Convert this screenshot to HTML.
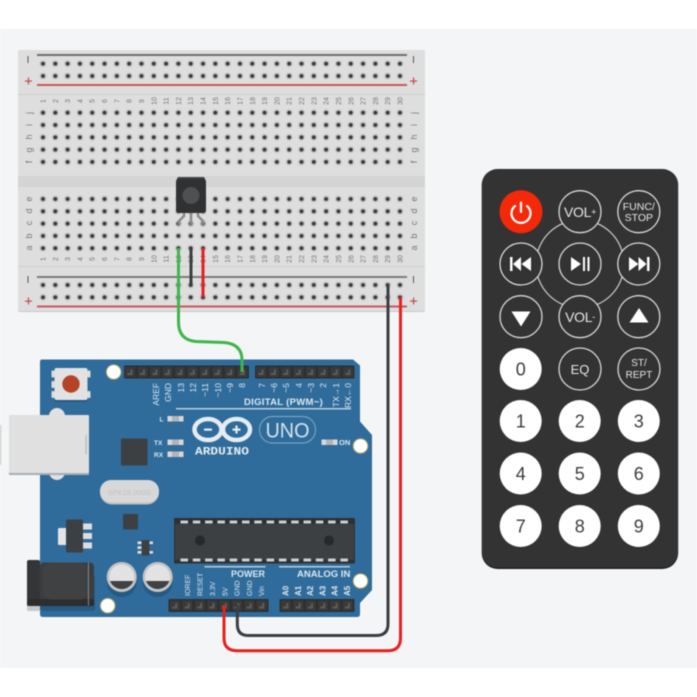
<!DOCTYPE html>
<html><head><meta charset="utf-8"><style>
html,body{margin:0;padding:0;background:#fff}
svg{display:block;filter:blur(.4px)}
text{font-family:"Liberation Sans",sans-serif}
</style></head><body>
<svg width="697" height="697" viewBox="0 0 697 697" xmlns="http://www.w3.org/2000/svg">
<defs>
<pattern id="h" patternUnits="userSpaceOnUse" x="36.85" y="57.55" width="12.31" height="12.31">
<circle cx="6.15" cy="6.15" r="3.6" fill="#c8c8c8"/><circle cx="6.15" cy="6.15" r="2" fill="#3a3a3a"/>
</pattern>
<pattern id="h2" patternUnits="userSpaceOnUse" x="36.85" y="106.55" width="12.31" height="12.31">
<circle cx="6.15" cy="6.15" r="3.6" fill="#c8c8c8"/><circle cx="6.15" cy="6.15" r="2" fill="#3a3a3a"/>
</pattern>
<pattern id="h3" patternUnits="userSpaceOnUse" x="36.85" y="192.85" width="12.31" height="12.31">
<circle cx="6.15" cy="6.15" r="3.6" fill="#c8c8c8"/><circle cx="6.15" cy="6.15" r="2" fill="#3a3a3a"/>
</pattern>
<pattern id="h4" patternUnits="userSpaceOnUse" x="36.85" y="278.85" width="12.31" height="12.31">
<circle cx="6.15" cy="6.15" r="3.6" fill="#c8c8c8"/><circle cx="6.15" cy="6.15" r="2" fill="#3a3a3a"/>
</pattern>
<pattern id="ph" patternUnits="userSpaceOnUse" x="124" y="365.5" width="12.45" height="13">
<rect x="1.2" y="1.5" width="10" height="10" fill="#3a3a3a"/><path d="M3.5 9.5h5v-5.5h-2v3.5h-3z" fill="#5c5c5c"/>
</pattern>
<pattern id="ph2" patternUnits="userSpaceOnUse" x="255" y="365.5" width="12.4" height="13">
<rect x="1.2" y="1.5" width="10" height="10" fill="#3a3a3a"/><path d="M3.5 9.5h5v-5.5h-2v3.5h-3z" fill="#5c5c5c"/>
</pattern>
<pattern id="ph3" patternUnits="userSpaceOnUse" x="168.8" y="599" width="12.4" height="13">
<rect x="1.2" y="1.5" width="10" height="10" fill="#3a3a3a"/><path d="M3.5 9.5h5v-5.5h-2v3.5h-3z" fill="#5c5c5c"/>
</pattern>
<pattern id="ph4" patternUnits="userSpaceOnUse" x="279.8" y="599" width="12.35" height="13">
<rect x="1.2" y="1.5" width="10" height="10" fill="#3a3a3a"/><path d="M3.5 9.5h5v-5.5h-2v3.5h-3z" fill="#5c5c5c"/>
</pattern>
</defs>
<rect x="0" y="29" width="697" height="639" fill="#f4f5f7"/>

<!-- breadboard -->
<rect x="18" y="50" width="407" height="262" rx="2" fill="#c9c9c9"/>
<rect x="18" y="50" width="407" height="261" rx="2" fill="#dedede"/>
<rect x="18" y="94" width="407" height="1" fill="#cfcfcf"/>
<rect x="18" y="266" width="407" height="1" fill="#cfcfcf"/>
<rect x="18" y="176" width="407" height="11" fill="#d4d4d4"/>
<rect x="37" y="54" width="370" height="2" fill="#6f6f6f"/>
<rect x="37" y="84" width="370" height="2" fill="#c9585c"/>
<rect x="37" y="276" width="370" height="2" fill="#7b7b7b"/>
<rect x="37" y="305.500" width="370" height="2" fill="#c9585c"/>
<rect x="36.850" y="57.550" width="369.300" height="24.620" fill="url(#h)"/>
<rect x="36.850" y="106.550" width="369.300" height="61.550" fill="url(#h2)"/>
<rect x="36.850" y="192.850" width="369.300" height="61.550" fill="url(#h3)"/>
<rect x="36.850" y="278.850" width="369.300" height="24.620" fill="url(#h4)"/>
<g fill="#555"><rect x="27.500" y="56" width="1" height="7"/><rect x="25" y="80.500" width="7" height="1.200" fill="#c9484c"/><rect x="27.900" y="77.500" width="1.200" height="7" fill="#c9484c"/>
<rect x="413" y="56" width="1" height="7"/><rect x="410" y="80.500" width="7" height="1.200" fill="#c9484c"/><rect x="413" y="77.500" width="1.200" height="7" fill="#c9484c"/>
<rect x="27.500" y="276" width="1" height="7"/><rect x="25" y="300.500" width="7" height="1.200" fill="#c9484c"/><rect x="27.900" y="297.500" width="1.200" height="7" fill="#c9484c"/>
<rect x="413" y="276" width="1" height="7"/><rect x="410" y="300.500" width="7" height="1.200" fill="#c9484c"/><rect x="413" y="297.500" width="1.200" height="7" fill="#c9484c"/></g>
<g transform="rotate(-90)" text-anchor="middle" font-size="7" fill="#777">
<text x="-101" y="45.500">1</text><text x="-101" y="57.800">2</text><text x="-101" y="70.100">3</text><text x="-101" y="82.400">4</text><text x="-101" y="94.700">5</text><text x="-101" y="107.100">6</text><text x="-101" y="119.400">7</text><text x="-101" y="131.700">8</text><text x="-101" y="144">9</text><text x="-101" y="156.300">10</text><text x="-101" y="168.600">11</text><text x="-101" y="180.900">12</text><text x="-101" y="193.200">13</text><text x="-101" y="205.500">14</text><text x="-101" y="217.800">15</text><text x="-101" y="230.200">16</text><text x="-101" y="242.500">17</text><text x="-101" y="254.800">18</text><text x="-101" y="267.100">19</text><text x="-101" y="279.400">20</text><text x="-101" y="291.700">21</text><text x="-101" y="304">22</text><text x="-101" y="316.300">23</text><text x="-101" y="328.600">24</text><text x="-101" y="340.900">25</text><text x="-101" y="353.300">26</text><text x="-101" y="365.600">27</text><text x="-101" y="377.900">28</text><text x="-101" y="390.200">29</text><text x="-101" y="402.500">30</text>
<text x="-259" y="45.500">1</text><text x="-259" y="57.800">2</text><text x="-259" y="70.100">3</text><text x="-259" y="82.400">4</text><text x="-259" y="94.700">5</text><text x="-259" y="107.100">6</text><text x="-259" y="119.400">7</text><text x="-259" y="131.700">8</text><text x="-259" y="144">9</text><text x="-259" y="156.300">10</text><text x="-259" y="168.600">11</text><text x="-259" y="180.900">12</text><text x="-259" y="193.200">13</text><text x="-259" y="205.500">14</text><text x="-259" y="217.800">15</text><text x="-259" y="230.200">16</text><text x="-259" y="242.500">17</text><text x="-259" y="254.800">18</text><text x="-259" y="267.100">19</text><text x="-259" y="279.400">20</text><text x="-259" y="291.700">21</text><text x="-259" y="304">22</text><text x="-259" y="316.300">23</text><text x="-259" y="328.600">24</text><text x="-259" y="340.900">25</text><text x="-259" y="353.300">26</text><text x="-259" y="365.600">27</text><text x="-259" y="377.900">28</text><text x="-259" y="390.200">29</text><text x="-259" y="402.500">30</text>
</g>
<g transform="rotate(-90)" text-anchor="middle" font-size="9" fill="#777">
<text x="-113" y="32">j</text><text x="-125" y="32">i</text><text x="-137" y="32">h</text><text x="-150" y="32">g</text><text x="-162" y="32">f</text>
<text x="-199" y="32">e</text><text x="-211" y="32">d</text><text x="-223" y="32">c</text><text x="-236" y="32">b</text><text x="-248" y="32">a</text>
<text x="-113" y="417">j</text><text x="-125" y="417">i</text><text x="-137" y="417">h</text><text x="-150" y="417">g</text><text x="-162" y="417">f</text>
<text x="-199" y="417">e</text><text x="-211" y="417">d</text><text x="-223" y="417">c</text><text x="-236" y="417">b</text><text x="-248" y="417">a</text>
</g>

<!-- sensor -->
<g fill="none" stroke="#8a8a8a" stroke-width="2.500"><path d="M184 213 V216 L179 221 V225"/><path d="M191 213 V225"/><path d="M198 213 V216 L203 221 V225"/></g>
<path d="M178 177 H204 L206 181 V210 Q206 213 203 213 H179 Q176 213 176 210 V181 Z" fill="#2f3133"/>
<rect x="178" y="177" width="26" height="2" fill="#3f4143"/>
<circle cx="191" cy="195.500" r="8.500" fill="#4e5052"/>

<!-- arduino board -->
<path d="M42 359.500 H353 L360 365.500 V421.500 L372 435 V590 L360 603 V614 Q360 617 357 617 H43 Q40 617 40 614 V362 Q40 359.500 42 359.500Z" fill="#2f6c9b"/>
<!-- headers -->
<rect x="124" y="365.500" width="125" height="13" rx="1" fill="#2e2e2e"/>
<rect x="124" y="365.500" width="124.500" height="13" fill="url(#ph)"/>
<rect x="255" y="365.500" width="99.500" height="13" rx="1" fill="#2e2e2e"/>
<rect x="255" y="365.500" width="99.200" height="13" fill="url(#ph2)"/>
<rect x="168.500" y="599" width="100" height="13" rx="1" fill="#2e2e2e"/>
<rect x="168.800" y="599" width="99.200" height="13" fill="url(#ph3)"/>
<rect x="279.500" y="599" width="75" height="13" rx="1" fill="#2e2e2e"/>
<rect x="279.800" y="599" width="74.100" height="13" fill="url(#ph4)"/>
<!-- mount holes -->
<g fill="#fff" stroke="#b5a860" stroke-width="1"><circle cx="113.700" cy="372" r="7.300"/><circle cx="360.500" cy="446" r="7.300"/><circle cx="107.700" cy="605.700" r="7.300"/><circle cx="360.500" cy="581" r="7.300"/></g>
<!-- reset -->
<rect x="54.500" y="369" width="33" height="33" rx="2" fill="#265a82"/>
<rect x="51.500" y="370.500" width="3" height="7" rx="1" fill="#ddd"/><rect x="51.500" y="381" width="3" height="7" rx="1" fill="#ddd"/><rect x="51.500" y="391" width="3" height="7" rx="1" fill="#ddd"/>
<rect x="87.500" y="370.500" width="3" height="7" rx="1" fill="#ddd"/><rect x="87.500" y="391" width="3" height="7" rx="1" fill="#ddd"/>
<rect x="54.500" y="368" width="33" height="32" rx="2" fill="#e2e2e2"/>
<circle cx="71" cy="384" r="8.700" fill="#b5432a"/>
<!-- USB -->
<rect x="49" y="408" width="16" height="72" rx="8" fill="#e0e0e0"/>
<rect x="9" y="416" width="80" height="59" fill="#a9adb0"/>
<rect x="9" y="415" width="80" height="58" rx="1" fill="#e0e0e0"/>
<rect x="85.500" y="435" width="1.200" height="19" fill="#b5b5b5"/>
<rect x="0" y="425" width="1.200" height="40" fill="#c8c8c8"/>
<!-- chip -->
<rect x="121" y="438.500" width="26.500" height="27" rx="1" fill="#3c4043"/>
<!-- LEDs -->
<g fill="#d8d8d8"><rect x="167.500" y="416" width="16" height="5.500"/><rect x="167.500" y="439.500" width="16" height="5.500"/><rect x="167.500" y="451.500" width="16" height="5.500"/><rect x="321.500" y="439.500" width="16" height="5.500"/></g>
<g fill="#b4b4b4"><rect x="172" y="416" width="7" height="5.500"/><rect x="172" y="439.500" width="7" height="5.500"/><rect x="172" y="451.500" width="7" height="5.500"/><rect x="326" y="439.500" width="7" height="5.500"/></g>
<g fill="#dfe7ee" font-size="6.500" font-weight="bold">
<text x="159.500" y="421.500">L</text><text x="154" y="445">TX</text><text x="154" y="457">RX</text><text x="339" y="445" font-size="7.500">ON</text>
</g>
<!-- crystal -->
<rect x="100" y="480" width="59" height="24.500" rx="12" fill="#bfbfbf"/>
<rect x="100" y="480" width="59" height="22.500" rx="11" fill="#d8d8d8"/>
<text x="129.500" y="495" text-anchor="middle" font-size="7.500" fill="#c2c2c2">SPK16.000G</text>
<!-- regulator -->
<rect x="58" y="528" width="9" height="17" rx="1" fill="#e4e4e4"/>
<rect x="83" y="523.500" width="9" height="6" fill="#ddd"/><rect x="83" y="533" width="9" height="6" fill="#ddd"/><rect x="83" y="542.500" width="9" height="6" fill="#ddd"/>
<rect x="66" y="519.500" width="17" height="33" rx="1" fill="#3c4043"/>
<rect x="123" y="514" width="15" height="15.500" rx="1" fill="#3c4043"/>
<rect x="137.500" y="541.500" width="4" height="2.600" fill="#ddd"/><rect x="137.500" y="551" width="4" height="2.600" fill="#ddd"/><rect x="137.500" y="546.300" width="4" height="2.600" fill="#ddd"/>
<rect x="149" y="541.500" width="4" height="2.600" fill="#ddd"/><rect x="149" y="551" width="4" height="2.600" fill="#ddd"/>
<rect x="141.500" y="540" width="8" height="15.500" rx="1" fill="#3c4043"/>
<!-- jack -->
<rect x="40" y="575" width="55" height="36" rx="3" fill="#265a82"/>
<rect x="27" y="565" width="13" height="46" rx="2" fill="#c8c8c8"/>
<rect x="27" y="560" width="13" height="46" rx="2" fill="#333537"/>
<rect x="40" y="562.500" width="54" height="43" rx="4" fill="#3b3d3f"/>
<rect x="27" y="599" width="67" height="7" rx="2" fill="#2c2d2f"/>
<rect x="43" y="562.500" width="45" height="37" rx="8" fill="#3f4143"/>
<rect x="88" y="562.500" width="0.800" height="43" fill="#9a9a9a"/>
<!-- caps -->
<circle cx="121.700" cy="582" r="15" fill="#265a82"/><circle cx="157.700" cy="582" r="15" fill="#265a82"/>
<circle cx="121.700" cy="577" r="15" fill="#c4c4c4"/><circle cx="157.700" cy="577" r="15" fill="#c4c4c4"/>
<circle cx="121.700" cy="577" r="12.500" fill="#e2e2e2"/><circle cx="157.700" cy="577" r="12.500" fill="#e2e2e2"/>
<path d="M110 581 H133.400 A12.500 12.500 0 0 1 110 581Z" fill="#3f4143"/><path d="M146 581 H169.400 A12.500 12.500 0 0 1 146 581Z" fill="#3f4143"/>
<!-- main IC -->
<rect x="174" y="518" width="181" height="45.500" rx="1" fill="#2e3032"/>
<rect x="175" y="524" width="179" height="36" fill="#3c4043"/>
<circle cx="200" cy="540.500" r="5" fill="#26282a"/><circle cx="329" cy="540.500" r="5" fill="#26282a"/>
<g fill="#cfcfcf"><rect x="180.500" y="520.500" width="7.500" height="3"/><rect x="192.800" y="520.500" width="7.500" height="3"/><rect x="205.100" y="520.500" width="7.500" height="3"/><rect x="217.400" y="520.500" width="7.500" height="3"/><rect x="229.700" y="520.500" width="7.500" height="3"/><rect x="242" y="520.500" width="7.500" height="3"/><rect x="254.300" y="520.500" width="7.500" height="3"/><rect x="266.600" y="520.500" width="7.500" height="3"/><rect x="278.900" y="520.500" width="7.500" height="3"/><rect x="291.200" y="520.500" width="7.500" height="3"/><rect x="303.500" y="520.500" width="7.500" height="3"/><rect x="315.800" y="520.500" width="7.500" height="3"/><rect x="328.100" y="520.500" width="7.500" height="3"/><rect x="340.400" y="520.500" width="7.500" height="3"/>
<rect x="180.500" y="558.500" width="7.500" height="3"/><rect x="192.800" y="558.500" width="7.500" height="3"/><rect x="205.100" y="558.500" width="7.500" height="3"/><rect x="217.400" y="558.500" width="7.500" height="3"/><rect x="229.700" y="558.500" width="7.500" height="3"/><rect x="242" y="558.500" width="7.500" height="3"/><rect x="254.300" y="558.500" width="7.500" height="3"/><rect x="266.600" y="558.500" width="7.500" height="3"/><rect x="278.900" y="558.500" width="7.500" height="3"/><rect x="291.200" y="558.500" width="7.500" height="3"/><rect x="303.500" y="558.500" width="7.500" height="3"/><rect x="315.800" y="558.500" width="7.500" height="3"/><rect x="328.100" y="558.500" width="7.500" height="3"/><rect x="340.400" y="558.500" width="7.500" height="3"/></g>
<!-- board labels -->
<rect x="176" y="408" width="175" height="1.500" fill="#b9cddc"/>
<rect x="204.500" y="566" width="61" height="1.500" fill="#b9cddc"/>
<rect x="279" y="566" width="71" height="1.500" fill="#b9cddc"/>
<g fill="#dfe7ee" font-weight="bold"><text x="244" y="405" font-size="9.500" letter-spacing=".3">DIGITAL (PWM~)</text><text x="231" y="577" font-size="9">POWER</text><text x="297" y="577" font-size="9.500">ANALOG IN</text></g>
<g transform="rotate(-90)" fill="#dfe7ee" font-size="8.500" text-anchor="end">
<text x="-383" y="159">AREF</text><text x="-383" y="171">GND</text><text x="-383" y="184">13</text><text x="-383" y="196">12</text><text x="-383" y="208">~11</text><text x="-383" y="221">~10</text><text x="-383" y="233">~9</text><text x="-383" y="245">8</text><text x="-383" y="265">7</text><text x="-383" y="277">~6</text><text x="-383" y="289">~5</text><text x="-383" y="302">4</text><text x="-383" y="314">~3</text><text x="-383" y="326">2</text><text x="-383" y="339">TX→1</text><text x="-383" y="351">RX←0</text>
</g>
<g transform="rotate(-90)" fill="#dfe7ee" font-size="7">
<text x="-596" y="190">IOREF</text><text x="-596" y="202.500">RESET</text><text x="-596" y="215">3.3V</text><text x="-596" y="227.500">5V</text><text x="-596" y="239.500">GND</text><text x="-596" y="252">GND</text><text x="-596" y="264">Vin</text>
<text x="-596" y="288.500" font-size="8" font-weight="bold">A0</text><text x="-596" y="301" font-size="8" font-weight="bold">A1</text><text x="-596" y="313" font-size="8" font-weight="bold">A2</text><text x="-596" y="325.500" font-size="8" font-weight="bold">A3</text><text x="-596" y="337.500" font-size="8" font-weight="bold">A4</text><text x="-596" y="350" font-size="8" font-weight="bold">A5</text>
</g>
<!-- logo -->
<g fill="none" stroke="#e6ecf1" stroke-width="4.500"><ellipse cx="208" cy="429.500" rx="13.500" ry="10.500"/><ellipse cx="236.500" cy="429.500" rx="13.500" ry="10.500"/></g>
<g fill="#e6ecf1"><rect x="204" y="428.500" width="8" height="2.200"/><rect x="232.500" y="428.500" width="8" height="2.200"/><rect x="235.400" y="425.500" width="2.200" height="8"/></g>
<text x="222" y="454.500" text-anchor="middle" font-size="11" font-weight="bold" fill="#e6ecf1" textLength="54" lengthAdjust="spacingAndGlyphs" style="font-family:'Liberation Mono',monospace">ARDUINO</text>
<rect x="259.500" y="416.500" width="56" height="26.500" rx="13" fill="none" stroke="#dfe7ee" stroke-width="1" stroke-dasharray="1 1"/>
<text x="287.500" y="437.500" text-anchor="middle" font-size="21" fill="#d5e1ea" textLength="44" lengthAdjust="spacingAndGlyphs">UNO</text>

<!-- wires -->
<g fill="none" stroke-width="3">
<path d="M178.500 248 V322 Q178.500 340 196 341.500 L224 342.500 Q242 344 242 360 V372" stroke="#3fb54a"/>
<path d="M191 248 V285" stroke="#3a3d42"/>
<path d="M203 248 V297" stroke="#e8201e"/>
<path d="M388 285 V624 Q388 635.500 376 635.500 H248 Q237.300 635.500 237.300 624 V605" stroke="#3a3d42"/>
<path d="M400.500 297 V638 Q400.500 650.700 388 650.700 H237 Q224 650.700 224 638 V605" stroke="#e8201e"/>
</g>

<!-- remote -->
<rect x="481.700" y="169" width="196.500" height="400" rx="16" fill="#1f1f1f"/>
<rect x="482" y="169.500" width="196" height="398" rx="15" fill="#333"/>
<circle cx="580" cy="264" r="44" fill="none" stroke="#d0d0d0" stroke-width="1.200"/>
<g fill="#333" stroke="#d8d8d8" stroke-width="1.300">
<circle cx="580" cy="211.700" r="21"/><circle cx="638.800" cy="211.700" r="21"/>
<circle cx="521" cy="264" r="21"/><circle cx="580" cy="264" r="21"/><circle cx="638.800" cy="264" r="21"/>
<circle cx="521" cy="316.700" r="21"/><circle cx="580" cy="316.700" r="21"/><circle cx="638.800" cy="316.700" r="21"/>
<circle cx="580" cy="369" r="21"/><circle cx="639" cy="369" r="21"/>
</g>
<circle cx="521" cy="211.700" r="21.500" fill="#f4290a"/>
<path d="M515 206 A9.500 9.500 0 1 0 527 206" fill="none" stroke="#fff" stroke-width="2.200" stroke-linecap="round"/>
<rect x="519.900" y="201.500" width="2.200" height="11.500" rx="1" fill="#fff"/>
<g fill="#e6e6e6" text-anchor="middle">
<text x="580" y="217" font-size="14" letter-spacing="-.3">VOL<tspan font-size="9" dy="-2">+</tspan></text>
<text x="638.800" y="210" font-size="10.500">FUNC/</text><text x="638.800" y="221" font-size="10.500">STOP</text>
<text x="580" y="322" font-size="14" letter-spacing="-.3">VOL<tspan font-size="9" dy="-2">-</tspan></text>
<text x="580" y="374" font-size="13">EQ</text>
<text x="639" y="366" font-size="10">ST/</text><text x="639" y="378" font-size="10">REPT</text>
</g>
<g fill="#fff">
<path d="M510 257h2.500v14h-2.500zM521 257v14l-8-7zM531 257v14l-9.500-7z"/>
<path d="M571 257l10 7-10 7zM583 257h2v14h-2zM587.500 257h2v14h-2z"/>
<path d="M629 257l9.500 7-9.500 7zM638.500 257l8 7-8 7zM647 257h2.500v14H647z"/>
<path d="M511.500 311.500h19l-9.500 15z"/>
<path d="M629.500 322.500h19l-9.500-14.500z"/>
</g>
<g fill="#fff"><circle cx="520.700" cy="369" r="21"/>
<circle cx="520.700" cy="421" r="21"/><circle cx="579.700" cy="421" r="21"/><circle cx="638.800" cy="421" r="21"/>
<circle cx="520.700" cy="473.500" r="21"/><circle cx="579.700" cy="473.500" r="21"/><circle cx="638.800" cy="473.500" r="21"/>
<circle cx="520.700" cy="526" r="21"/><circle cx="579.700" cy="526" r="21"/><circle cx="638.800" cy="526" r="21"/></g>
<g fill="#3d3d3d" text-anchor="middle" font-size="18">
<text x="520.700" y="375.500">0</text>
<text x="520.700" y="427.500">1</text><text x="579.700" y="427.500">2</text><text x="638.800" y="427.500">3</text>
<text x="520.700" y="480">4</text><text x="579.700" y="480">5</text><text x="638.800" y="480">6</text>
<text x="520.700" y="532.500">7</text><text x="579.700" y="532.500">8</text><text x="638.800" y="532.500">9</text>
</g>
</svg>
</body></html>
